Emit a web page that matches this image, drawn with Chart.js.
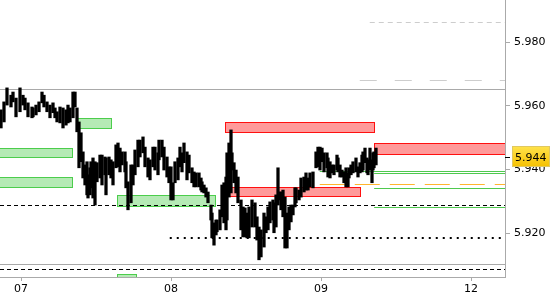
<!DOCTYPE html>
<html>
<head>
<meta charset="utf-8">
<script src="https://cdn.jsdelivr.net/npm/chart.js@4.4.1/dist/chart.umd.min.js"></script>
<style>
  html, body { margin: 0; padding: 0; background: #fff; }
  #wrap { width: 550px; height: 300px; }
</style>
</head>
<body>
<div id="wrap"><canvas id="chart"></canvas></div>
<script>
// bar times, hours counted from the 07 session open (weekend skipped)
const barHours = [-3.2,-2.72,-2.24,-1.6,-1.28,-0.8,-0.16,0.32,0.64,1.12,
  1.76,1.92,2.4,2.88,3.36,3.68,4.16,4.64,5.12,5.44,
  5.76,6.24,6.72,7.2,7.52,7.84,8.32,8.64,8.96,9.28,
  9.6,9.92,10.24,10.56,10.72,11.04,11.2,11.52,11.84,12.16,
  12.64,12.96,13.44,13.6,14.08,14.4,14.72,15.2,15.52,15.84,
  16.16,16.64,16.8,17.12,17.6,17.92,18.24,18.72,19.04,19.52,
  19.84,20.32,20.64,21.12,21.44,21.92,22.08,22.56,22.88,23.36,
  23.68,24.0,24.32,24.64,25.12,25.44,25.76,26.08,26.56,26.88,
  27.36,27.68,28.0,28.48,28.8,28.96,29.28,29.6,29.92,30.4,
  30.56,30.88,31.2,31.36,31.84,32.16,32.48,32.8,32.96,33.28,
  33.6,33.76,34.08,34.4,34.72,35.2,35.52,35.84,36.16,36.48,
  36.96,37.44,37.76,38.08,38.4,38.88,39.2,39.52,39.84,40.32,
  40.48,40.8,41.12,41.44,41.6,41.92,42.24,42.56,42.88,43.2,
  43.52,43.84,44.0,44.48,44.8,45.28,45.6,45.92,46.24,46.72,
  47.2,47.52,47.84,48.16,48.48,48.96,49.12,49.44,49.76,50.08,
  50.56,50.72,51.04,51.36,51.68,52.0,52.32,52.48,52.8,53.12,
  53.6,53.92,54.24,54.56,54.72,55.04,55.36,55.52,55.84,56.16,
  56.32,56.48,56.8];

const barHigh = [5.9587,5.9612,5.9656,5.9633,5.9643,5.9624,5.9656,5.9633,5.9624,5.9609,
  5.9596,5.9593,5.9602,5.9612,5.9643,5.9633,5.9612,5.9602,5.9609,5.9593,
  5.9581,5.9596,5.9593,5.9587,5.9602,5.9593,5.9643,5.9643,5.9593,5.9549,
  5.9515,5.9455,5.9414,5.9424,5.9383,5.9405,5.9424,5.9436,5.9424,5.9421,
  5.9445,5.9445,5.9439,5.9436,5.9439,5.9430,5.9424,5.9477,5.9483,5.9467,
  5.9455,5.9455,5.9424,5.9361,5.9414,5.9414,5.9461,5.9492,5.9492,5.9502,
  5.9470,5.9436,5.9430,5.9470,5.9470,5.9452,5.9492,5.9492,5.9470,5.9439,
  5.9408,5.9408,5.9358,5.9424,5.9436,5.9470,5.9452,5.9483,5.9455,5.9445,
  5.9405,5.9392,5.9389,5.9389,5.9373,5.9361,5.9351,5.9342,5.9329,5.9288,
  5.9263,5.9232,5.9241,5.9241,5.9273,5.9351,5.9358,5.9376,5.9452,5.9483,
  5.9524,5.9452,5.9421,5.9398,5.9376,5.9304,5.9282,5.9279,5.9263,5.9282,
  5.9304,5.9295,5.9251,5.9219,5.9210,5.9263,5.9251,5.9282,5.9298,5.9304,
  5.9295,5.9320,5.9405,5.9329,5.9329,5.9335,5.9313,5.9263,5.9282,5.9288,
  5.9288,5.9342,5.9342,5.9335,5.9373,5.9376,5.9389,5.9373,5.9389,5.9392,
  5.9455,5.9470,5.9470,5.9467,5.9452,5.9452,5.9436,5.9424,5.9414,5.9414,
  5.9445,5.9436,5.9414,5.9398,5.9392,5.9405,5.9389,5.9405,5.9414,5.9424,
  5.9436,5.9408,5.9421,5.9445,5.9455,5.9467,5.9436,5.9430,5.9467,5.9430,
  5.9452,5.9455,5.9467];

const barLow = [5.9530,5.9549,5.9602,5.9596,5.9612,5.9565,5.9581,5.9602,5.9587,5.9565,
  5.9562,5.9565,5.9571,5.9581,5.9609,5.9596,5.9581,5.9562,5.9578,5.9562,
  5.9549,5.9546,5.9530,5.9539,5.9546,5.9549,5.9562,5.9596,5.9518,5.9405,
  5.9424,5.9373,5.9351,5.9320,5.9310,5.9320,5.9342,5.9310,5.9288,5.9361,
  5.9373,5.9351,5.9383,5.9320,5.9383,5.9373,5.9351,5.9405,5.9408,5.9392,
  5.9414,5.9392,5.9342,5.9273,5.9295,5.9351,5.9383,5.9408,5.9439,5.9452,
  5.9408,5.9376,5.9367,5.9408,5.9398,5.9383,5.9430,5.9439,5.9398,5.9376,
  5.9358,5.9304,5.9304,5.9358,5.9367,5.9408,5.9392,5.9421,5.9367,5.9389,
  5.9358,5.9345,5.9345,5.9345,5.9335,5.9329,5.9326,5.9313,5.9295,5.9241,
  5.9185,5.9162,5.9194,5.9204,5.9210,5.9251,5.9232,5.9210,5.9241,5.9313,
  5.9326,5.9398,5.9358,5.9326,5.9295,5.9210,5.9188,5.9188,5.9185,5.9185,
  5.9219,5.9219,5.9178,5.9116,5.9125,5.9156,5.9201,5.9210,5.9232,5.9241,
  5.9201,5.9219,5.9288,5.9304,5.9273,5.9251,5.9153,5.9153,5.9210,5.9235,
  5.9257,5.9282,5.9295,5.9304,5.9313,5.9329,5.9335,5.9335,5.9345,5.9342,
  5.9405,5.9408,5.9398,5.9424,5.9392,5.9405,5.9376,5.9373,5.9389,5.9383,
  5.9398,5.9392,5.9376,5.9376,5.9358,5.9345,5.9345,5.9373,5.9383,5.9389,
  5.9392,5.9376,5.9389,5.9392,5.9398,5.9421,5.9389,5.9383,5.9398,5.9358,
  5.9398,5.9405,5.9414];

const dayTicks = [0, 24, 48, 72];
const dayLabels = ["07", "08", "09", "12"];
const priceTicks = [5.92, 5.94, 5.96, 5.98];
const lastPrice = 5.944;

// supply / demand zones
const zoneSide = ["buy","buy","buy","buy","buy","sell","sell","sell"];
const zoneFrom = [-4, -4, 8.8, 15.4, 15.4, 32.6, 33.1, 56.5];
const zoneTo = [8.2, 8.2, 14.4, 31.0, 18.4, 56.5, 54.3, 80];
const zoneHigh = [5.9466, 5.9375, 5.9561, 5.9320, 5.9072, 5.9550, 5.9346, 5.9482];
const zoneLow = [5.9438, 5.9344, 5.9529, 5.9286, 5.9040, 5.9517, 5.9317, 5.9448];

// horizontal levels (null start = whole width)
const levelKind = ["frame","frame","ghost","ghostLong","stop","pivot","stop","target","target","entry","target","target"];
const levelPrice = [5.9652, 5.9102, 5.9863, 5.9681, 5.9288, 5.9185, 5.9086, 5.9396, 5.9388, 5.9353, 5.9341, 5.9283];
const levelFrom = [null, null, 55.8, 54.2, null, 23.8, null, 47.8, 56.5, 47.8, 56.5, 56.5];

const levelStyle = {
  frame: { color: "#a9a9a9", dash: [], width: 1 },
  ghost: { color: "#cdcdcd", dash: [5, 4], width: 1 },
  ghostLong: { color: "#cdcdcd", dash: [17, 18], width: 1 },
  stop: { color: "#000000", dash: [4, 3], width: 1 },
  pivot: { color: "#000000", dash: [2, 5], width: 2 },
  target: { color: "#4fc94f", dash: [], width: 1 },
  entry: { color: "#ffb52e", dash: [25, 10], width: 1 }
};

const overlay = {
  id: "overlay",
  beforeDatasetsDraw(chart) {
    const { ctx, chartArea: a, scales: { x, y } } = chart;
    ctx.save();
    ctx.beginPath();
    ctx.rect(a.left, a.top, a.right - a.left, a.bottom - a.top);
    ctx.clip();

    zoneFrom.forEach((f, i) => {
      const x0 = Math.round(x.getPixelForValue(f));
      const x1 = Math.round(x.getPixelForValue(zoneTo[i]));
      const y0 = Math.round(y.getPixelForValue(zoneHigh[i]));
      const y1 = Math.round(y.getPixelForValue(zoneLow[i]));
      const buy = zoneSide[i] === "buy";
      ctx.fillStyle = buy ? "#b5eab5" : "#ff9a9a";
      ctx.strokeStyle = buy ? "#4ccd4c" : "#ff1010";
      ctx.lineWidth = 1;
      ctx.fillRect(x0, y0, x1 - x0, y1 - y0);
      ctx.strokeRect(x0 + 0.5, y0 + 0.5, x1 - x0, y1 - y0);
    });

    levelPrice.forEach((p, i) => {
      const st = levelStyle[levelKind[i]];
      const py = Math.round(y.getPixelForValue(p)) + (st.width === 1 ? 0.5 : 0);
      const px = levelFrom[i] === null ? a.left : x.getPixelForValue(levelFrom[i]);
      ctx.beginPath();
      ctx.setLineDash(st.dash);
      ctx.lineWidth = st.width;
      ctx.strokeStyle = st.color;
      ctx.moveTo(px, py);
      ctx.lineTo(a.right, py);
      ctx.stroke();
    });
    ctx.restore();
  },
  afterDraw(chart) {
    const { ctx, chartArea: a, scales: { y } } = chart;
    const py = Math.round(y.getPixelForValue(lastPrice));
    ctx.save();
    ctx.strokeStyle = "#000";
    ctx.lineWidth = 1;
    ctx.beginPath();
    ctx.moveTo(a.right, py + 0.5);
    ctx.lineTo(a.right + 5, py + 0.5);
    ctx.stroke();
    const bx = a.right + 7, bw = 550 - bx, bh = 21, by = py - 11;
    const g = ctx.createLinearGradient(0, by, 0, by + bh);
    g.addColorStop(0, "#ffe34d");
    g.addColorStop(1, "#f5c000");
    ctx.fillStyle = g;
    ctx.fillRect(bx, by, bw, bh);
    ctx.strokeStyle = "#e0c860";
    ctx.strokeRect(bx + 0.5, by + 0.5, bw - 1, bh - 1);
    ctx.fillStyle = "#000";
    ctx.font = "11px 'DejaVu Sans'";
    ctx.textBaseline = "middle";
    ctx.fillText(lastPrice.toFixed(3), bx + 3, py + 1);
    ctx.restore();
  }
};

const bars = barHours.map((h, i) => ({ x: h, y: [barLow[i], barHigh[i]] }));

new Chart(document.getElementById("chart"), {
  type: "bar",
  data: {
    datasets: [{
      data: bars,
      backgroundColor: "#000",
      borderWidth: 0,
      barThickness: 2.6,
      grouped: false
    }]
  },
  options: {
    responsive: true,
    maintainAspectRatio: false,
    animation: false,
    layout: { padding: 0, autoPadding: false },
    plugins: { legend: { display: false }, tooltip: { enabled: false } },
    scales: {
      x: {
        type: "linear",
        min: -3.36,
        max: 77.44,
        offset: false,
        afterFit: s => { s.height = 23; s.paddingLeft = 0; s.paddingRight = 0; },
        afterBuildTicks: s => { s.ticks = dayTicks.map(v => ({ value: v })); },
        ticks: {
          callback: v => dayLabels[dayTicks.indexOf(v)],
          color: "#000",
          font: { family: "DejaVu Sans", size: 11 },
          padding: 2,
          maxRotation: 0,
          autoSkip: false
        },
        grid: { drawOnChartArea: false, offset: false, tickLength: 4, color: "#aaa" },
        border: { display: true, color: "#aaa" }
      },
      y: {
        position: "right",
        min: 5.9062,
        max: 5.9932,
        afterFit: s => { s.width = 45; s.paddingTop = 0; s.paddingBottom = 0; },
        afterBuildTicks: s => { s.ticks = priceTicks.map(v => ({ value: v })); },
        ticks: {
          callback: v => v.toFixed(3),
          color: "#000",
          font: { family: "DejaVu Sans", size: 11 },
          padding: 4
        },
        grid: { drawOnChartArea: false, tickLength: 5, color: "#aaa" },
        border: { display: true, color: "#aaa" }
      }
    }
  },
  plugins: [overlay]
});
</script>
</body>
</html>
